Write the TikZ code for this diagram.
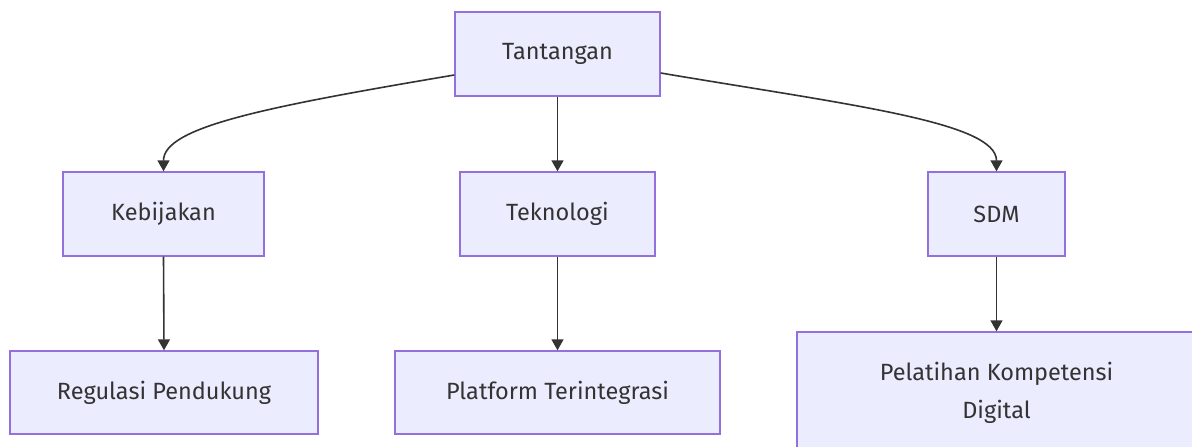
\documentclass[tikz,border=0pt]{standalone}
\usepackage{fontspec}
\setmainfont{Fira Sans}
\usetikzlibrary{arrows.meta}
\definecolor{boxfill}{HTML}{ECECFF}
\definecolor{boxline}{HTML}{9370DB}
\definecolor{edgecol}{HTML}{333333}
\definecolor{txtcol}{HTML}{333333}
\tikzset{
  box/.style={draw=boxline, fill=boxfill, line width=1.4pt, inner sep=0pt,
    text=txtcol, font=\fontsize{23.5}{38}\selectfont, align=center},
  edge/.style={draw=edgecol, line width=1.6pt, -{Triangle[length=11pt,width=12pt]}}
}
\begin{document}
\begin{tikzpicture}[x=1pt,y=-1pt]
\useasboundingbox (0,0) rectangle (1192,447);
\clip (0,0) rectangle (1192,447);
\fill[white] (0,0) rectangle (1192,447);
\node[box, minimum width=205pt, minimum height=84pt] (T) at (557.5,54) {Tantangan};
\node[box, minimum width=201pt, minimum height=84pt] (K) at (163.5,214) {Kebijakan};
\node[box, minimum width=195pt, minimum height=84pt] (Tk) at (557.5,214) {Teknologi};
\node[box, minimum width=137pt, minimum height=84pt] (S) at (996.5,214) {SDM};
\node[box, minimum width=308pt, minimum height=83pt] (R) at (164,392.5) {Regulasi Pendukung};
\node[box, minimum width=325pt, minimum height=83pt] (P) at (557.5,392.5) {Platform Terintegrasi};
\node[box, minimum width=399pt, minimum height=122pt] (D) at (996.5,393) {Pelatihan Kompetensi\\Digital};
\draw[edge] ([yshift=-21pt]T.west) .. controls (265,107) and (163.5,127) .. (K.north);
\draw[edge] ([yshift=-19pt]T.east) .. controls (850,105) and (996.5,122) .. (S.north);
\draw[edge] (T.south) -- (Tk.north);
\draw[edge] (K.south) -- (R.north);
\draw[edge] (Tk.south) -- (P.north);
\draw[edge] (S.south) -- (D.north);
\end{tikzpicture}
\end{document}
